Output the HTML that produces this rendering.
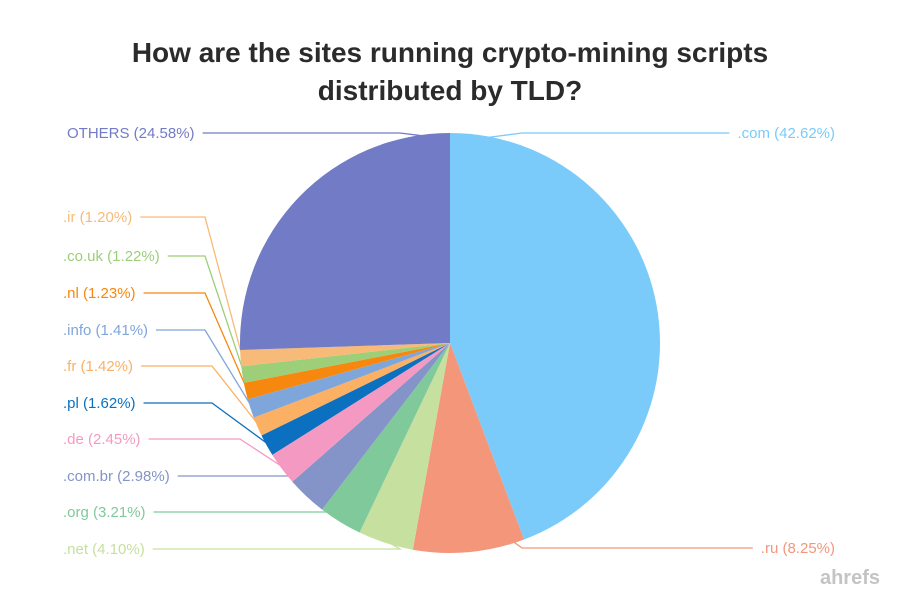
<!DOCTYPE html>
<html><head><meta charset="utf-8"><style>
html,body{margin:0;padding:0;background:#fff;width:900px;height:600px;overflow:hidden;font-family:"Liberation Sans",sans-serif}
</style></head><body>
<svg id="chart" width="900" height="600" viewBox="0 0 900 600" xmlns="http://www.w3.org/2000/svg">
<text x="450" y="62" text-anchor="middle" font-size="28" font-weight="bold" fill="#2b2b2b">How are the sites running crypto-mining scripts</text>
<text x="450" y="100" text-anchor="middle" font-size="28" font-weight="bold" fill="#2b2b2b">distributed by TLD?</text>
<text x="880" y="584" text-anchor="end" font-size="20" font-weight="bold" fill="#c4c4c4">ahrefs</text>
<g id="lines"></g><g id="slices"></g><g id="labels"></g>
</svg>
<script>
const categories=[".com",".ru",".net",".org",".com.br",".de",".pl",".fr",".info",".nl",".co.uk",".ir","OTHERS"];
const values=[42.62,8.25,4.10,3.21,2.98,2.45,1.62,1.42,1.41,1.23,1.22,1.20,24.58];
const colors=["#7acbf9","#f4967a","#c6e09f","#80c99b","#8493c8","#f49ac2","#0a70bf","#fbb064","#7fa6da","#f7880f","#9dce78","#f7ba78","#727bc5"];
const labelY=[133,548,549,512,476,439,403,366,330,293,256,217,133];
const kneeX=[522,522,400,345,290,240,212,212,205,205,205,205,400];
const anchorFrac=[0.06,0.1,0.5,0.5,0.5,0.5,0.5,0.5,0.5,0.5,0.5,0.5,0.93];
const cx=450,cy=343,r=210;
const NS="http://www.w3.org/2000/svg";
const total=values.reduce((a,b)=>a+b,0);
function pt(a,rad){return [cx+rad*Math.sin(a),cy-rad*Math.cos(a)];}
const gs=document.getElementById('slices'),gl=document.getElementById('labels'),gn=document.getElementById('lines');
let acc=0;
values.forEach((v,i)=>{
 const a0=acc/total*2*Math.PI;acc+=v;const a1=acc/total*2*Math.PI;
 const p0=pt(a0,r),p1=pt(a1,r);const large=(a1-a0)>Math.PI?1:0;
 const p=document.createElementNS(NS,'path');
 p.setAttribute('d',`M${cx},${cy}L${p0[0]},${p0[1]}A${r},${r} 0 ${large} 1 ${p1[0]},${p1[1]}Z`);
 p.setAttribute('fill',colors[i]);
 
 
 gs.appendChild(p);
 const am=a0+(a1-a0)*anchorFrac[i];const e=pt(am,r-2);
 const right=i<2;
 const y=labelY[i];
 const t=document.createElementNS(NS,'text');
 t.textContent=categories[i]+' ('+v.toFixed(2)+'%)';
 t.setAttribute('y',y+5);t.setAttribute('font-size','15');t.setAttribute('fill',colors[i]);
 
 
 const x0=right?835:(i===12?67:63);
 t.setAttribute('x',x0);
 if(right)t.setAttribute('text-anchor','end');
 gl.appendChild(t);
 const w=t.getComputedTextLength();
 const lx=right?x0-w-8:x0+w+8;
 const l=document.createElementNS(NS,'polyline');
 l.setAttribute('points',`${lx},${y} ${kneeX[i]},${y} ${e[0]},${e[1]}`);
 l.setAttribute('fill','none');l.setAttribute('stroke',colors[i]);l.setAttribute('stroke-width','1.3');
 
 
 gn.appendChild(l);
});
</script>
</body></html>
